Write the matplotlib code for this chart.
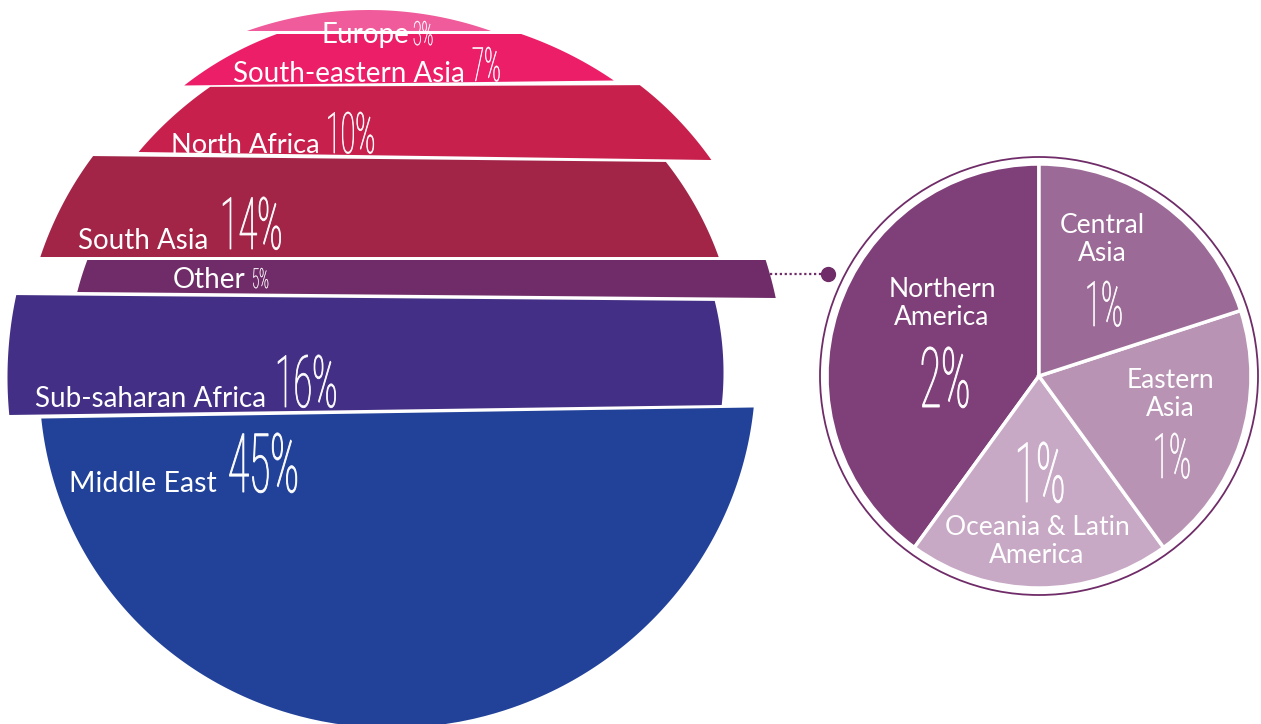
import numpy as np
import matplotlib
matplotlib.use("Agg")
import matplotlib.pyplot as plt
from matplotlib.patches import Polygon, Circle
from matplotlib.patheffects import AbstractPathEffect
from matplotlib.transforms import Affine2D

# big circle, bottom band first
regions = ["Middle East", "Sub-saharan Africa", "Other", "South Asia",
           "North Africa", "South-eastern Asia", "Europe"]
shares = [45, 16, 5, 14, 10, 7, 3]
band_colors = ["#22429A", "#432F85", "#6F2C68", "#A22548",
               "#C8204C", "#EC1E68", "#EF5B9B"]

# breakdown of "Other"
other_labels = ["Northern\nAmerica", "Oceania & Latin\nAmerica", "Eastern\nAsia", "Central\nAsia"]
other_values = [2, 1, 1, 1]
other_colors = ["#7F3F78", "#C7A8C5", "#B893B4", "#9B6A97"]

W, H = 1261, 724
FONT = ["Lato", "DejaVu Sans"]
NUM_FONT = ["Roboto", "DejaVu Sans"]

# layout of the sliced circle (pixels from the top of the image)
RX = 358          # horizontal half width of the circle
SCALE = 7.0       # px per percent, bands stacked by height
Y0 = 728          # bottom of the circle
GAP = 3
band_cx = [397.5, 365.5, 426.5, 379.5, 425, 399, 369]
# tilt of the bottom / top edge of every band (px down per px right)
tilt_bottom = [-0.0155, -0.014, 0.0086, 0.0, 0.014, -0.0116, 0.0]
tilt_top = [-0.0155, 0.0084, 0.0, 0.0103, -0.004, 0.0, 0.0]

# label placement: (label x, label baseline, label size, pct x, pct baseline, pct size)
band_text = [
    (69, 492, 20.5, 228, 492, 59),
    (35, 407, 20, 275, 407, 52),
    (173, 288, 20, 252, 288, 20),
    (78, 249, 20, 220, 249, 52),
    (171, 153, 19.5, 326, 153, 41),
    (233, 82, 20, 472, 81, 34),
    (322, 43, 20, 413, 45, 24),
]

# pie
PIE_C = (1039, 376)
PIE_R = 212
# (label center x, first baseline, pct center x, pct baseline, pct size)
pie_text = [
    (942, 297, 945, 407, 60),
    (1037, 535, 1040, 502, 60),
    (1170, 388, 1172, 478, 45),
    (1102, 233, 1104, 326, 45),
]


class Squeeze(AbstractPathEffect):
    """squash glyphs horizontally around an anchor, stands in for a condensed face"""
    def __init__(self, sx, x0, trans, lw=0.0):
        super().__init__()
        self.sx = sx
        self.x0 = x0
        self.trans = trans
        self.lw = lw

    def draw_path(self, renderer, gc, tpath, affine, rgbFace=None):
        xd = self.trans.transform((self.x0, 0))[0]
        squash = Affine2D().translate(-xd, 0).scale(self.sx, 1).translate(xd, 0)
        tr = (affine + squash).frozen()
        if self.lw > 0:
            gc0 = renderer.new_gc()
            gc0.copy_properties(gc)
            gc0.set_linewidth(self.lw)
            gc0.set_foreground(rgbFace)
            renderer.draw_path(gc0, tpath, tr, rgbFace)
            gc0.restore()
        else:
            renderer.draw_path(gc, tpath, tr, rgbFace)


fig = plt.figure(figsize=(W / 100, H / 100), dpi=100)
ax = fig.add_axes([0, 0, 1, 1])
ax.set_xlim(0, W)
ax.set_ylim(0, H)
ax.axis("off")


def txt(x, y, s, size, ha="left"):
    return ax.text(x, H - y, s, fontsize=size, color="white", ha=ha, va="baseline",
                   family=FONT, zorder=5)


def num(x, y, s, size, ha="left"):
    # tall narrow percentages
    t = ax.text(x, H - y, s, fontsize=size, color="white", ha=ha, va="baseline",
                family=NUM_FONT, fontweight="light", zorder=5)
    t.set_path_effects([Squeeze(0.47, x, ax.transData, lw=size / 90)])
    return t


# bands
cum = np.concatenate([[0], np.cumsum(shares)])
for i, share in enumerate(shares):
    lo, hi = cum[i], cum[i + 1]
    v = np.linspace(lo, hi, 120)
    hw = RX * np.sqrt(np.clip(1 - ((v - 50) / 50) ** 2, 0, None))
    cx = band_cx[i]
    xs = np.concatenate([cx + hw, (cx - hw)[::-1]])
    vs = np.concatenate([v, v[::-1]])
    frac = (vs - lo) / (hi - lo)
    slope = tilt_bottom[i] + (tilt_top[i] - tilt_bottom[i]) * frac
    py = Y0 - vs * SCALE - i * GAP + slope * (xs - cx)
    ax.add_patch(Polygon(np.column_stack([xs, H - py]), closed=True,
                         facecolor=band_colors[i], edgecolor="none", zorder=2))

    lx, ly, ls, px, pyb, ps = band_text[i]
    txt(lx, ly, regions[i], ls)
    num(px, pyb, f"{share}%", ps)

# connector from "Other" to the pie
other_c = band_colors[regions.index("Other")]
ax.plot([770, 824], [H - 274, H - 274], ls=(0, (1, 1.2)), color=other_c, lw=1.6, zorder=3)
ax.plot([828], [H - 274], "o", color=other_c, ms=10, zorder=3)

# pie of "Other"
ax.pie(other_values, colors=other_colors, startangle=90, counterclock=True,
       center=(PIE_C[0], H - PIE_C[1]), radius=PIE_R, frame=True,
       wedgeprops=dict(edgecolor="white", linewidth=2.5))
ax.add_patch(Circle((PIE_C[0], H - PIE_C[1]), PIE_R + 7, fill=False,
                    edgecolor=other_c, linewidth=1.3, zorder=3))

for lab, val, (lcx, lby, pcx, pby, psz) in zip(other_labels, other_values, pie_text):
    for k, line in enumerate(lab.split("\n")):
        txt(lcx, lby + k * 28, line, 19, ha="center")
    num(pcx, pby, f"{val}%", psz, ha="center")

ax.set_xlim(0, W)
ax.set_ylim(0, H)
ax.set_aspect("auto")
ax.axis("off")

fig.savefig("out.png", dpi=100)
